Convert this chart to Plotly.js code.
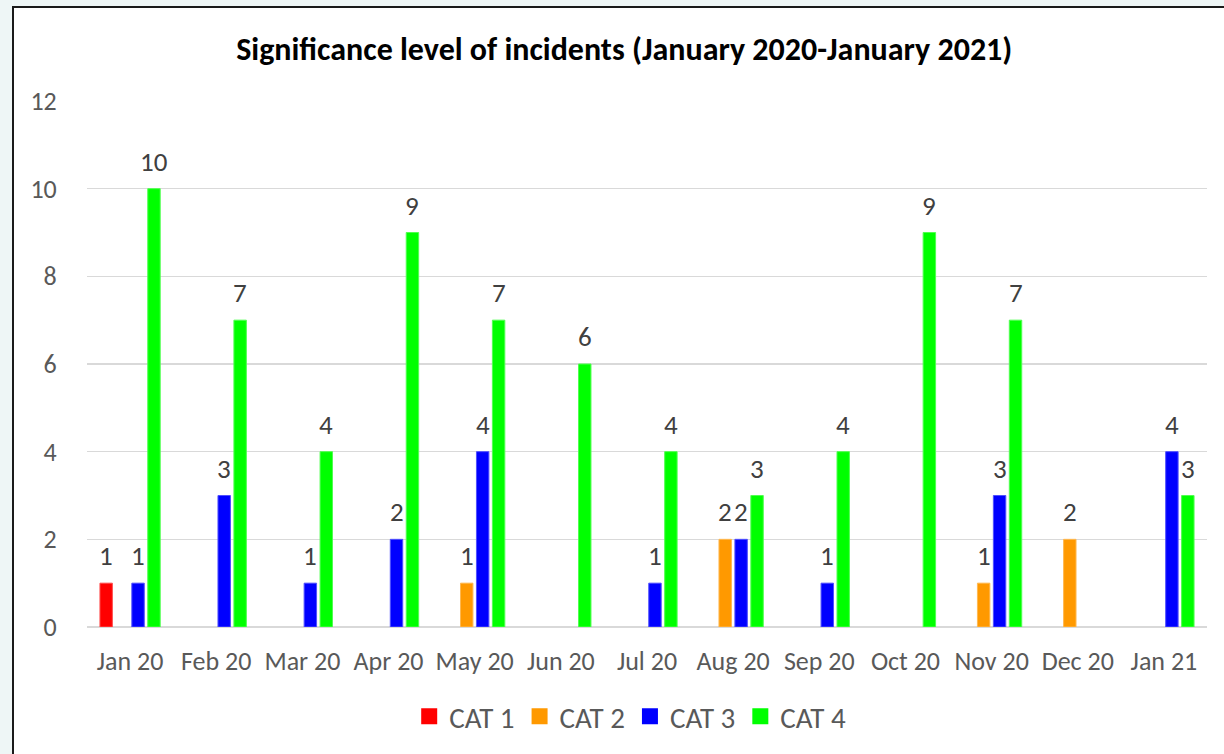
<!DOCTYPE html>
<html>
<head>
<meta charset="utf-8">
<script src="https://cdn.plot.ly/plotly-3.0.1.min.js"></script>
<style>
  html, body { margin: 0; padding: 0; background: #ffffff; }
  #wrap { position: relative; width: 1224px; height: 754px; overflow: hidden; background: #eef6f6; }
  #chart { position: absolute; left: 0; top: 0; width: 1224px; height: 754px; }
  #frame { position: absolute; left: 12px; top: 6px; width: 1230px; height: 760px; border: 2px solid #1a1a1a; background: #ffffff; box-sizing: border-box; }
</style>
</head>
<body>
<div id="wrap">
  <div id="frame"></div>
  <div id="chart"></div>
</div>
<script>
const months = ["Jan 20","Feb 20","Mar 20","Apr 20","May 20","Jun 20","Jul 20","Aug 20","Sep 20","Oct 20","Nov 20","Dec 20","Jan 21"];
const cat1 = [1,0,0,0,0,0,0,0,0,0,0,0,0];
const cat2 = [0,0,0,0,1,0,0,2,0,0,1,2,0];
const cat3 = [1,3,1,2,4,0,1,2,1,0,3,0,4];
const cat4 = [10,7,4,9,7,6,4,3,4,9,7,0,3];
const seriesNames = ["CAT 1","CAT 2","CAT 3","CAT 4"];
const seriesColors = ["#ff0000","#ff9900","#0000ff","#00ff00"];
const outlineColors = ["#ff5050","#ffb850","#5050ff","#50ff50"];
const yTicks = [0,2,4,6,8,10,12];

const font = "Calibri, Carlito, 'Open Sans', sans-serif";
const allSeries = [cat1,cat2,cat3,cat4];

const W = 1224, H = 754;
const margin = {l: 87, r: 17, t: 101, b: 127};
const bargap = 0.26;
const slotPx = (W - margin.l - margin.r) / months.length * (1 - bargap) / allSeries.length;

const bars = allSeries.map((vals,i)=>({
  type: 'bar',
  name: seriesNames[i],
  x: months,
  y: vals.map(v => v === 0 ? null : v),
  marker: {color: seriesColors[i], line: {color: outlineColors[i], width: 1}},
  showlegend: false,
  hoverinfo: 'x+y+name'
}));
const legendItems = seriesNames.map((n,i)=>({
  type: 'scatter',
  mode: 'markers',
  name: n,
  x: [months[0]],
  y: [null],
  marker: {symbol: 'square', size: 16, color: seriesColors[i]},
  showlegend: true,
  hoverinfo: 'skip'
}));

// value labels above each non-zero bar, anchored at the bar's data coordinates
const annotations = [];
allSeries.forEach((vals,i)=>{
  vals.forEach((v,j)=>{
    if (v > 0) {
      annotations.push({
        x: months[j], y: v, xref: 'x', yref: 'y',
        text: String(v), showarrow: false,
        xanchor: 'center', yanchor: 'bottom',
        xshift: (i - (allSeries.length - 1) / 2) * slotPx,
        yshift: 9,
        font: {family: font, size: 27, color: '#404040'}
      });
    }
  });
});

const layout = {
  width: W, height: H,
  paper_bgcolor: 'rgba(0,0,0,0)',
  plot_bgcolor: 'rgba(0,0,0,0)',
  margin: margin,
  barmode: 'group',
  bargap: bargap,
  bargroupgap: 0.22,
  title: {
    text: '<b>Significance level of incidents (January 2020-January 2021)</b>',
    font: {family: font, size: 32, color: '#000000'},
    x: 0.51, xref: 'container', y: 0.935, yref: 'container', yanchor: 'middle'
  },
  font: {family: font},
  annotations: annotations,
  xaxis: {
    type: 'category',
    range: [-0.5, months.length - 0.5],
    tickfont: {family: font, size: 26, color: '#595959'},
    showgrid: false,
    showline: false,
    ticks: 'outside',
    tickcolor: 'rgba(0,0,0,0)',
    ticklen: 11,
    zeroline: false,
    automargin: false
  },
  yaxis: {
    range: [0, 12],
    tickvals: yTicks,
    ticktext: yTicks.map(String),
    tickfont: {family: font, size: 26, color: '#595959'},
    gridcolor: '#d9d9d9',
    gridwidth: 1.5,
    zeroline: true,
    zerolinecolor: '#d9d9d9',
    zerolinewidth: 1.5,
    showline: false,
    ticks: 'outside',
    tickcolor: 'rgba(0,0,0,0)',
    ticklen: 24,
    automargin: false
  },
  legend: {
    orientation: 'h',
    x: 0.485, xanchor: 'center',
    y: -0.17, yanchor: 'middle',
    font: {family: font, size: 29, color: '#595959'},
    itemsizing: 'trace',
    itemwidth: 30,
    traceorder: 'normal'
  },
  showlegend: true
};

Plotly.newPlot('chart', bars.concat(legendItems), layout, {displayModeBar: false, staticPlot: true});
</script>
</body>
</html>
